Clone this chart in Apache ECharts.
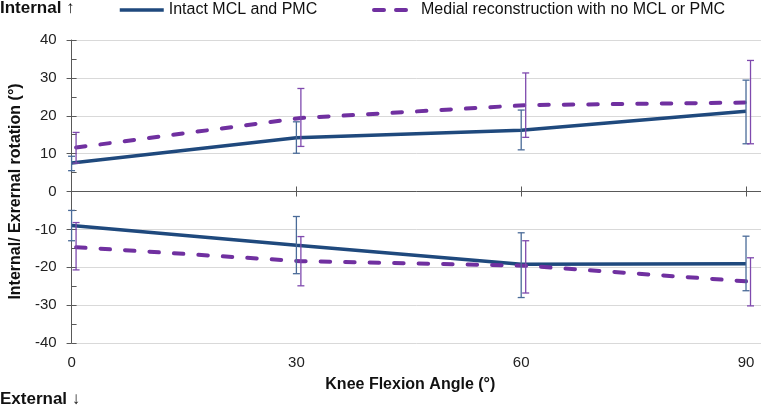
<!DOCTYPE html>
<html><head><meta charset="utf-8">
<script src="https://cdn.jsdelivr.net/npm/echarts@6/dist/echarts.min.js"></script>
<style>html,body{margin:0;padding:0;background:#fff}#c{width:761px;height:410px}</style>
</head><body><div id="c"></div>
<script>
// ---- data ----
const angles = [0, 30, 60, 90];
const reconAngles = [0.6, 30.6, 60.6, 90.6];
const xTickLabels = ['0', '30', '60', '90'];
const seriesNames = ['Intact MCL and PMC', 'Medial reconstruction with no MCL or PMC'];

const intactInternal = [7.5, 14.2, 16.2, 21.2];
const intactInternalLow = [5.5, 10.1, 11.0, 12.6];
const intactInternalHigh = [9.3, 18.4, 21.5, 29.4];

const reconInternal = [11.6, 19.4, 22.8, 23.5];
const reconInternalLow = [7.5, 11.9, 14.3, 12.6];
const reconInternalHigh = [15.6, 27.2, 31.3, 34.6];

const intactExternal = [-9.0, -14.2, -19.2, -19.1];
const intactExternalLow = [-13.0, -21.7, -28.0, -26.2];
const intactExternalHigh = [-5.0, -6.6, -10.9, -11.8];

const reconExternal = [-14.7, -18.4, -19.6, -23.8];
const reconExternalLow = [-20.7, -24.9, -26.8, -30.2];
const reconExternalHigh = [-8.2, -11.9, -13.0, -17.5];

// ---- styling ----
const FONT = 'Liberation Sans, Arial, sans-serif';
const BLUE = '#1F497D';
const PURPLE = '#7030A0';
const BLUE_BAR = '#4A6B98';
const PURPLE_BAR = '#7F4AAE';
const AXIS = '#595959';

function pts(xs, ys) { return xs.map((x, i) => [x, ys[i]]); }
function bars(xs, lo, hi) { return xs.map((x, i) => [x, lo[i], hi[i]]); }

function makeErr(color) {
  return function (params, api) {
    const x = api.value(0), lo = api.value(1), hi = api.value(2);
    const a = api.coord([x, hi]), b = api.coord([x, lo]);
    const hw = 3.5;
    const style = { stroke: color, lineWidth: 1.3, fill: null };
    return {
      type: 'group', children: [
        { type: 'line', shape: { x1: a[0], y1: a[1], x2: b[0], y2: b[1] }, style },
        { type: 'line', shape: { x1: a[0] - hw, y1: a[1], x2: a[0] + hw, y2: a[1] }, style },
        { type: 'line', shape: { x1: b[0] - hw, y1: b[1], x2: b[0] + hw, y2: b[1] }, style }
      ]
    };
  };
}

const solidLine = { color: BLUE, width: 3.5 };
const dashLine = { color: PURPLE, width: 4, type: [9.5, 15], cap: 'round' };
const legendText = { fontFamily: FONT, fontSize: 16, color: '#111' };

const chart = echarts.init(document.getElementById('c'), null, { renderer: 'canvas' });
chart.setOption({
  animation: false,
  textStyle: { fontFamily: FONT },
  title: [
    { text: 'Internal ↑', left: 0, top: 0, padding: 0, textStyle: { fontFamily: FONT, fontSize: 17, fontWeight: 'bold', color: '#111' } },
    { text: 'External ↓', left: 0, top: 391, padding: 0, textStyle: { fontFamily: FONT, fontSize: 17, fontWeight: 'bold', color: '#111' } }
  ],
  legend: [
    { data: [seriesNames[0]], left: 118, top: 2, padding: 0, itemWidth: 44, itemHeight: 14, itemStyle: { opacity: 0 },
      lineStyle: { width: 3.5 }, textStyle: legendText },
    { data: [seriesNames[1]], left: 372, top: 2, padding: 0, itemWidth: 42, itemHeight: 14, itemStyle: { opacity: 0 },
      lineStyle: { width: 4, type: [10, 12], cap: 'round' }, textStyle: legendText }
  ],
  grid: { left: 69, right: 0, top: 40, bottom: 67, containLabel: false },
  xAxis: [
    {
      type: 'value', min: 0, max: 92, interval: 30, position: 'bottom',
      axisLine: { show: false, onZero: false }, axisTick: { show: false }, splitLine: { show: false },
      axisLabel: { showMaxLabel: false, fontSize: 15, color: '#222', margin: 12, fontFamily: FONT,
        formatter: v => { const i = angles.indexOf(v); return i >= 0 ? xTickLabels[i] : ''; } },
      name: 'Knee Flexion Angle (°)', nameLocation: 'middle', nameGap: 34,
      nameTextStyle: { fontFamily: FONT, fontSize: 16, fontWeight: 'bold', color: '#111', padding: [0, 0, 0, -12] }
    },
    {
      type: 'value', min: 0, max: 92, interval: 30, position: 'bottom',
      axisLine: { show: true, onZero: true, lineStyle: { color: AXIS, width: 1 } },
      axisTick: { show: true, length: 5, lineStyle: { color: AXIS } },
      axisLabel: { show: false }, splitLine: { show: false }
    },
    {
      type: 'value', min: 0, max: 92, interval: 30, position: 'bottom',
      axisLine: { show: false, onZero: true },
      axisTick: { show: true, inside: true, length: 5, lineStyle: { color: AXIS } },
      axisLabel: { show: false }, splitLine: { show: false }
    }
  ],
  yAxis: [
    {
      type: 'value', min: -40, max: 40, interval: 10, position: 'left',
      axisLine: { show: true, lineStyle: { color: AXIS, width: 1 } },
      axisTick: { show: true, length: 5, lineStyle: { color: AXIS } },
      axisLabel: { fontSize: 15, color: '#222', margin: 15, fontFamily: FONT },
      splitLine: { show: true, lineStyle: { color: '#D9D9D9', width: 1 } },
      name: 'Internal/ Exrernal rotation (°)', nameLocation: 'middle', nameGap: 44, nameRotate: 90,
      nameTextStyle: { fontFamily: FONT, fontSize: 16, fontWeight: 'bold', color: '#111' }
    },
    {
      type: 'value', min: -40, max: 40, interval: 10, position: 'left',
      axisLine: { show: false },
      axisTick: { show: true, inside: true, length: 5, lineStyle: { color: AXIS } },
      minorTick: { show: true, splitNumber: 2, length: 5, lineStyle: { color: AXIS } },
      axisLabel: { show: false }, splitLine: { show: false }
    }
  ],
  series: [
    { name: seriesNames[0], type: 'line', symbol: 'none', z: 3, lineStyle: solidLine, itemStyle: { color: BLUE }, data: pts(angles, intactInternal) },
    { name: seriesNames[0], type: 'line', symbol: 'none', z: 3, lineStyle: solidLine, itemStyle: { color: BLUE }, data: pts(angles, intactExternal) },
    { name: seriesNames[1], type: 'line', symbol: 'none', z: 3, lineStyle: dashLine, itemStyle: { color: PURPLE }, data: pts(reconAngles, reconInternal) },
    { name: seriesNames[1], type: 'line', symbol: 'none', z: 3, lineStyle: dashLine, itemStyle: { color: PURPLE }, data: pts(reconAngles, reconExternal) },
    { name: 'intact-err-int', type: 'custom', z: 4, renderItem: makeErr(BLUE_BAR), data: bars(angles, intactInternalLow, intactInternalHigh) },
    { name: 'intact-err-ext', type: 'custom', z: 4, renderItem: makeErr(BLUE_BAR), data: bars(angles, intactExternalLow, intactExternalHigh) },
    { name: 'recon-err-int', type: 'custom', z: 4, renderItem: makeErr(PURPLE_BAR), data: bars(reconAngles, reconInternalLow, reconInternalHigh) },
    { name: 'recon-err-ext', type: 'custom', z: 4, renderItem: makeErr(PURPLE_BAR), data: bars(reconAngles, reconExternalLow, reconExternalHigh) }
  ]
});
</script>
</body></html>
